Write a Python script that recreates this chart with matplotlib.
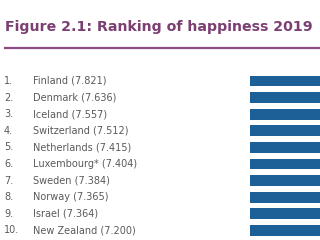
import matplotlib
matplotlib.use("Agg")
import matplotlib.pyplot as plt
import matplotlib.transforms as mtransforms

ranks = ["1.", "2.", "3.", "4.", "5.", "6.", "7.", "8.", "9.", "10."]
countries = ["Finland", "Denmark", "Iceland", "Switzerland", "Netherlands",
             "Luxembourg*", "Sweden", "Norway", "Israel", "New Zealand"]
scores = [7.821, 7.636, 7.557, 7.512, 7.415, 7.404, 7.384, 7.365, 7.364, 7.200]
title = "Figure 2.1: Ranking of happiness 2019"

W, H = 320, 240
fig = plt.figure(figsize=(W / 100, H / 100), dpi=100)
fig.patch.set_facecolor("white")

top_px, bot_px = 72.7, 238.7
left_px = 250
ax = fig.add_axes([left_px / W, 1 - bot_px / H, 1 - left_px / W + 0.01, (bot_px - top_px) / H])
ypos = list(range(len(countries)))
ax.barh(ypos, scores, height=0.64, color="#1d6098", left=0)
ax.set_xlim(0, 4)
ax.set_ylim(len(countries) - 0.5, -0.5)
ax.axis("off")

trans = mtransforms.blended_transform_factory(fig.transFigure, ax.transData)
for i, (r, c, s) in enumerate(zip(ranks, countries, scores)):
    ax.text(4 / W, i, r, transform=trans, ha="left", va="center",
            fontsize=7.0, color="#5a5a5a", family=["DejaVu Sans"], clip_on=False)
    ax.text(33 / W, i, f"{c} ({s:.3f})", transform=trans, ha="left", va="center",
            fontsize=7.0, color="#5a5a5a", family=["DejaVu Sans"], clip_on=False)

fig.text(5 / W, 1 - 27 / H, title, ha="left", va="center", fontsize=10.2,
         fontweight="bold", color="#7b3f72", family=["DejaVu Sans"])
fig.add_artist(plt.Line2D([5 / W, 1.0], [1 - 48 / H, 1 - 48 / H],
                          transform=fig.transFigure, color="#8c4a82", linewidth=1.6))

fig.savefig("out.png", dpi=100, facecolor="white")
